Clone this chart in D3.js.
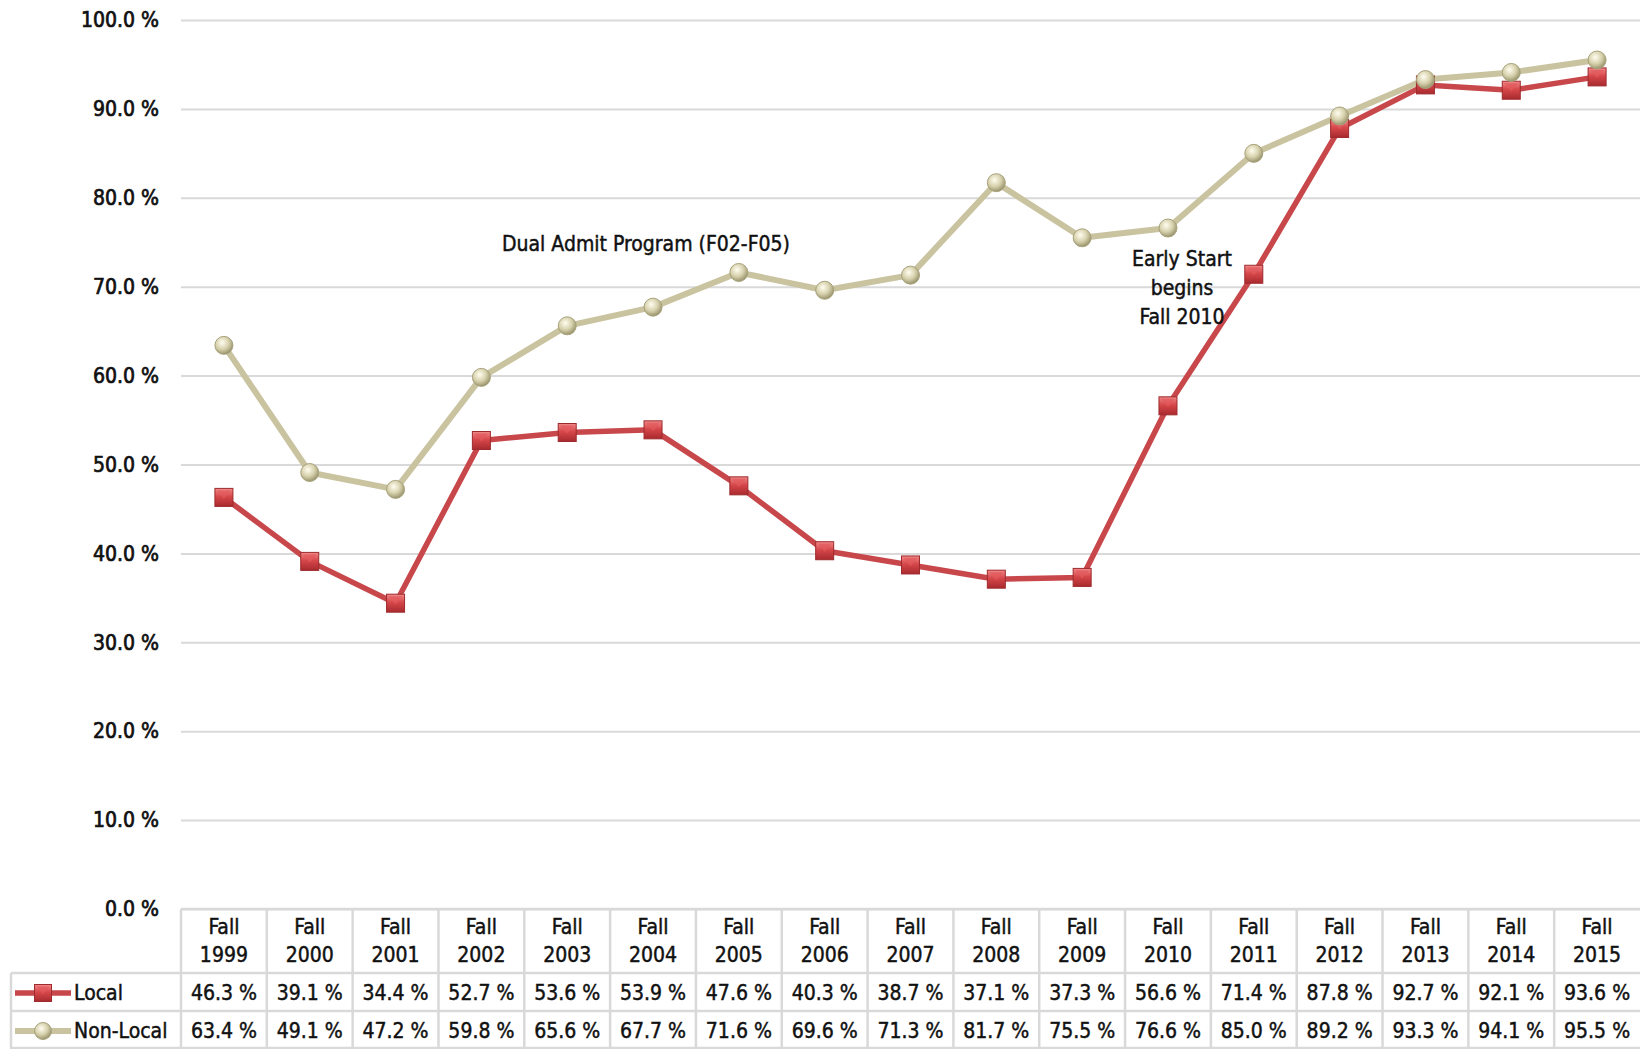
<!DOCTYPE html>
<html>
<head>
<meta charset="utf-8">
<script src="https://cdnjs.cloudflare.com/ajax/libs/d3/7.8.5/d3.min.js"></script>
<style>
  body { margin: 0; background: #fff; }
  svg text { font-family: "Liberation Sans Narrow", "DejaVu Sans Condensed", "Roboto Condensed", sans-serif; fill: #111; stroke: #111; stroke-width: 0.45px; }
</style>
</head>
<body>
<svg id="chart" width="1640" height="1049"></svg>
<script>
// chart data
var years = ["1999", "2000", "2001", "2002", "2003", "2004", "2005", "2006", "2007",
             "2008", "2009", "2010", "2011", "2012", "2013", "2014", "2015"];
var local = [46.3, 39.1, 34.4, 52.7, 53.6, 53.9, 47.6, 40.3, 38.7, 37.1, 37.3, 56.6, 71.4, 87.8, 92.7, 92.1, 93.6];
var nonLocal = [63.4, 49.1, 47.2, 59.8, 65.6, 67.7, 71.6, 69.6, 71.3, 81.7, 75.5, 76.6, 85.0, 89.2, 93.3, 94.1, 95.5];
var yTicks = [0, 10, 20, 30, 40, 50, 60, 70, 80, 90, 100];

var W = 1640, H = 1049;
var plotLeft = 181, plotRight = 1640, plotTop = 20, plotBottom = 909;
var tableLeft = 11;
var rowHeader = 973, rowLocal = 1011, rowNon = 1049;

var svg = d3.select("#chart");

var x = d3.scaleBand().domain(years).range([plotLeft, plotRight]).padding(0);
var y = d3.scaleLinear().domain([0, 100]).range([plotBottom, plotTop]);

var fmt = function(d) { return d.toFixed(1) + " %"; };

// gradients for the markers
var defs = svg.append("defs");
var sq = defs.append("linearGradient").attr("id", "sqGrad")
    .attr("x1", "0").attr("y1", "0").attr("x2", "0").attr("y2", "1");
sq.append("stop").attr("offset", "0%").attr("stop-color", "#f08a8a");
sq.append("stop").attr("offset", "45%").attr("stop-color", "#d6474a");
sq.append("stop").attr("offset", "100%").attr("stop-color", "#a82a2e");

var ball = defs.append("radialGradient").attr("id", "ballGrad")
    .attr("cx", "40%").attr("cy", "35%").attr("r", "65%");
ball.append("stop").attr("offset", "0%").attr("stop-color", "#fffdf0");
ball.append("stop").attr("offset", "55%").attr("stop-color", "#d8d2ae");
ball.append("stop").attr("offset", "100%").attr("stop-color", "#9a946e");

// y axis + gridlines
var yAxis = svg.append("g")
    .attr("transform", "translate(" + plotLeft + ",0)")
    .call(d3.axisLeft(y).tickValues(yTicks).tickFormat(fmt)
        .tickSize(-(plotRight - plotLeft)).tickPadding(22));
yAxis.select(".domain").remove();
yAxis.selectAll(".tick line").attr("stroke", "#d9d9d9").attr("stroke-width", 2);
yAxis.selectAll(".tick text").attr("font-size", 21).style("fill", "#111").style("stroke-width", "0.7px");

// series
var series = [
    { name: "Local", values: local, color: "#c8474a", width: 5.5, marker: "square" },
    { name: "Non-Local", values: nonLocal, color: "#c9c3a0", width: 6, marker: "circle" }
];

var line = d3.line()
    .x(function(d, i) { return x(years[i]) + x.bandwidth() / 2; })
    .y(function(d) { return y(d); });

function drawMarker(g, type, cx, cy, s) {
    if (type === "square") {
        g.append("rect")
            .attr("x", cx - s / 2).attr("y", cy - s / 2)
            .attr("width", s).attr("height", s)
            .attr("fill", "url(#sqGrad)")
            .attr("stroke", "#9e2a2d").attr("stroke-width", 1);
        g.append("path")
            .attr("d", "M" + (cx - s / 2 + 2) + "," + (cy - s / 2 + 2) + "L" + cx + "," + (cy + 1) + "L" + (cx + s / 2 - 2) + "," + (cy - s / 2 + 2) + "Z")
            .attr("fill", "#e25a5c").attr("opacity", 0.7);
    } else {
        g.append("circle")
            .attr("cx", cx).attr("cy", cy).attr("r", s / 2)
            .attr("fill", "url(#ballGrad)")
            .attr("stroke", "#a8a27c").attr("stroke-width", 1);
    }
}

series.forEach(function(s) {
    svg.append("path")
        .datum(s.values)
        .attr("d", line)
        .attr("fill", "none")
        .attr("stroke", s.color)
        .attr("stroke-width", s.width)
        .attr("stroke-linejoin", "round");
});

series.forEach(function(s) {
    var g = svg.append("g");
    s.values.forEach(function(v, i) {
        drawMarker(g, s.marker, x(years[i]) + x.bandwidth() / 2, y(v), 18);
    });
});

// annotations
svg.append("text")
    .attr("x", 646).attr("y", 251)
    .attr("text-anchor", "middle").attr("font-size", 21)
    .text("Dual Admit Program (F02-F05)");

var es = svg.append("text")
    .attr("x", 1182).attr("text-anchor", "middle").attr("font-size", 21);
["Early Start", "begins", "Fall 2010"].forEach(function(t, i) {
    es.append("tspan").attr("x", 1182).attr("y", 266 + i * 29).text(t);
});

// data table
var table = svg.append("g");
var grid = "#d9d9d9";

// horizontal borders
[[plotLeft, plotBottom], [tableLeft, rowHeader], [tableLeft, rowLocal], [tableLeft, rowNon - 1]].forEach(function(r) {
    table.append("line")
        .attr("x1", r[0]).attr("x2", W)
        .attr("y1", r[1]).attr("y2", r[1])
        .attr("stroke", grid).attr("stroke-width", 2.5);
});
// vertical borders
table.append("line").attr("x1", tableLeft).attr("x2", tableLeft)
    .attr("y1", rowHeader).attr("y2", H).attr("stroke", grid).attr("stroke-width", 2.5);
years.forEach(function(yr) {
    table.append("line")
        .attr("x1", x(yr)).attr("x2", x(yr))
        .attr("y1", plotBottom).attr("y2", H)
        .attr("stroke", grid).attr("stroke-width", 2.5);
});

// header cells
years.forEach(function(yr) {
    var cx = x(yr) + x.bandwidth() / 2;
    var t = table.append("text").attr("text-anchor", "middle").attr("font-size", 21);
    t.append("tspan").attr("x", cx).attr("y", 934).text("Fall");
    t.append("tspan").attr("x", cx).attr("y", 962).text(yr);
});

// value rows
var rowsY = [1000, 1038];
series.forEach(function(s, k) {
    s.values.forEach(function(v, i) {
        table.append("text")
            .attr("x", x(years[i]) + x.bandwidth() / 2)
            .attr("y", rowsY[k])
            .attr("text-anchor", "middle").attr("font-size", 21)
            .text(fmt(v));
    });
    // legend key
    var ly = rowsY[k] - 7;
    table.append("line")
        .attr("x1", 15).attr("x2", 71).attr("y1", ly).attr("y2", ly)
        .attr("stroke", s.color).attr("stroke-width", s.width);
    drawMarker(table.append("g"), s.marker, 43, ly, 17);
    table.append("text")
        .attr("x", 74).attr("y", rowsY[k])
        .attr("font-size", 21)
        .text(s.name);
});
</script>
</body>
</html>
